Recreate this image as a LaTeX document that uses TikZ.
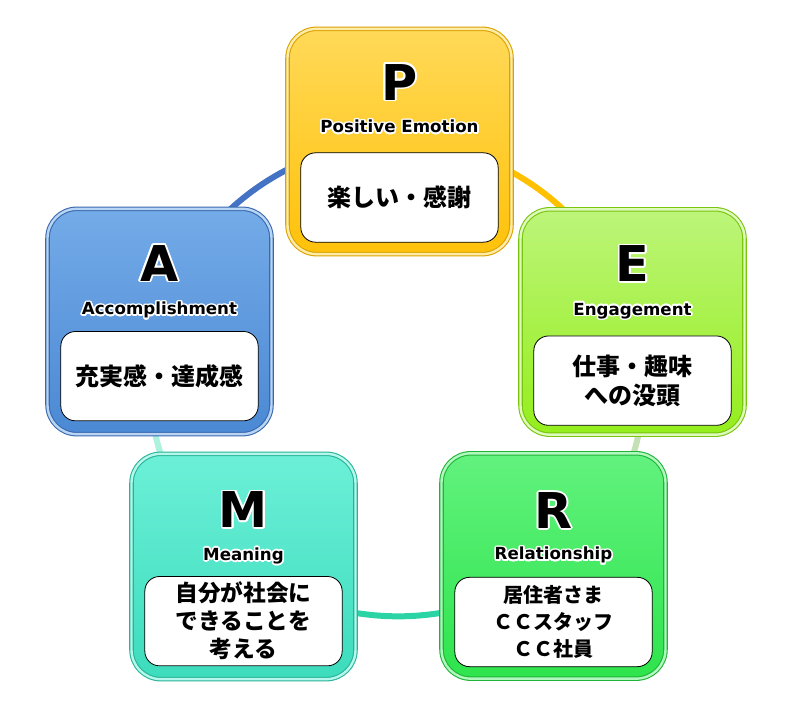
\documentclass[tikz,border=0pt]{standalone}
\usepackage{fontspec}
\newfontfamily\headfont{DejaVu Sans}
\newfontfamily\jp{Noto Sans CJK JP}
\usepackage{contour}
\contourlength{1.2pt}
\usetikzlibrary{backgrounds}

\definecolor{Ptop}{HTML}{FFD958}
\definecolor{Pbot}{HTML}{FFC20A}
\definecolor{Pedge}{HTML}{D9A200}
\definecolor{Etop}{HTML}{BDF57A}
\definecolor{Ebot}{HTML}{94EE1C}
\definecolor{Eedge}{HTML}{78C40E}
\definecolor{Rtop}{HTML}{62F27E}
\definecolor{Rbot}{HTML}{2EE44C}
\definecolor{Redge}{HTML}{1FB338}
\definecolor{Mtop}{HTML}{6CF0D8}
\definecolor{Mbot}{HTML}{3CDCBC}
\definecolor{Medge}{HTML}{27B397}
\definecolor{Atop}{HTML}{74ABE8}
\definecolor{Abot}{HTML}{4B89D4}
\definecolor{Aedge}{HTML}{3868AE}
\definecolor{ringAP}{HTML}{4472C4}
\definecolor{ringPE}{HTML}{FFC000}
\definecolor{ringER}{HTML}{C5E0B4}
\definecolor{ringRM}{HTML}{2BD4A4}
\definecolor{ringMA}{HTML}{ADF2DF}

\begin{document}
\begin{tikzpicture}[x=0.75pt,y=0.75pt,
    card/.style={rounded corners=22pt, minimum width=168pt, minimum height=169pt,
        inner sep=0pt, line width=0.8pt, double distance=1.8pt},
    letter/.style={font=\headfont\bfseries\fontsize{37}{37}\selectfont, inner sep=0pt},
    title/.style={font=\headfont\bfseries\fontsize{12.5}{14}\selectfont, inner sep=0pt},
    note/.style={fill=white, draw=black, line width=0.6pt, rounded corners=11pt,
        minimum width=148pt, minimum height=67pt, inner sep=2pt, align=center,
        font=\jp\bfseries\fontsize{18}{22}\selectfont},
    ring/.style={line width=4.5pt, bend left=36, looseness=0.94}]

    \useasboundingbox (0,0) rectangle (794,720);

    % the five cards
    \node[card, draw=Pedge, double=Ptop!50!white, top color=Ptop, bottom color=Pbot] (P) at (399.5,578.5) {};
    \node[card, draw=Eedge, double=Etop!50!white, top color=Etop, bottom color=Ebot] (E) at (632.5,398) {};
    \node[card, draw=Redge, double=Rtop!50!white, top color=Rtop, bottom color=Rbot] (R) at (553.5,154) {};
    \node[card, draw=Medge, double=Mtop!50!white, top color=Mtop, bottom color=Mbot] (M) at (243.5,153.5) {};
    \node[card, draw=Aedge, double=Atop!50!white, top color=Atop, bottom color=Abot] (A) at (159.5,398.5) {};

    \node[letter] (Pl) at ([yshift=44pt]P.center) {\contour{white}{P}};
    \node[letter] (El) at ([yshift=43pt]E.center) {\contour{white}{E}};
    \node[letter] (Rl) at ([yshift=41pt]R.center) {\contour{white}{R}};
    \node[letter] (Ml) at ([yshift=42pt]M.center) {\contour{white}{M}};
    \node[letter] (Al) at ([yshift=43pt]A.center) {\contour{white}{A}};

    \node[title, anchor=base] (Pt) at ([yshift=6.5pt]P.center) {\contour{white}{Positive Emotion}};
    \node[title, anchor=base] (Et) at ([yshift=5pt]E.center) {\contour{white}{Engagement}};
    \node[title, anchor=base] (Rt) at ([yshift=4.5pt]R.center) {\contour{white}{Relationship}};
    \node[title, anchor=base] (Mt) at ([yshift=4.5pt]M.center) {\contour{white}{Meaning}};
    \node[title, anchor=base] (At) at ([yshift=5pt]A.center) {\contour{white}{Accomplishment}};

    \node[note] (Pn) at ([yshift=-42pt]P.center) {楽しい・感謝};
    \node[note] (En) at ([yshift=-44pt]E.center) {仕事・趣味\\への没頭};
    \node[note, font=\jp\bfseries\fontsize{15}{20}\selectfont] (Rn) at ([yshift=-42pt]R.center) {居住者さま\\ＣＣスタッフ\\ＣＣ社員};
    \node[note, font=\jp\bfseries\fontsize{17}{21}\selectfont] (Mn) at ([yshift=-41pt]M.center) {自分が社会に\\できることを\\考える};
    \node[note] (An) at ([yshift=-41pt]A.center) {充実感・達成感};

    % ring behind the cards
    \begin{scope}[on background layer]
        \draw[ring, ringAP] (A.center) to (P.center);
        \draw[ring, ringPE] (P.center) to (E.center);
        \draw[ring, ringER] (E.center) to (R.center);
        \draw[ring, ringRM] (R.center) to (M.center);
        \draw[ring, ringMA] (M.center) to (A.center);
    \end{scope}
\end{tikzpicture}
\end{document}
